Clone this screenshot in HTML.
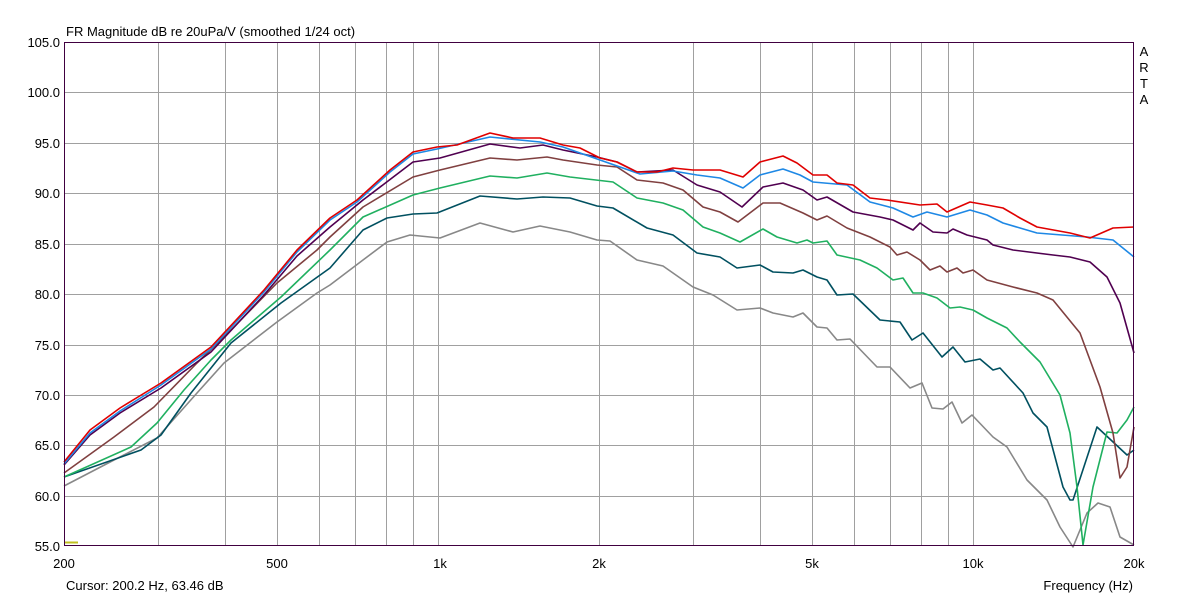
<!DOCTYPE html><html><head><style>body{margin:0;background:#fff}svg{display:block}text{font-family:"Liberation Sans",sans-serif;font-size:13px;fill:#000}</style></head><body>
<svg width="1198" height="597" xmlns="http://www.w3.org/2000/svg">
<rect width="1198" height="597" fill="#fff"/>
<g stroke="#a0a0a0" stroke-width="1">
<line x1="64" y1="92.5" x2="1134" y2="92.5"/><line x1="64" y1="143.5" x2="1134" y2="143.5"/><line x1="64" y1="193.5" x2="1134" y2="193.5"/><line x1="64" y1="244.5" x2="1134" y2="244.5"/><line x1="64" y1="294.5" x2="1134" y2="294.5"/><line x1="64" y1="345.5" x2="1134" y2="345.5"/><line x1="64" y1="395.5" x2="1134" y2="395.5"/><line x1="64" y1="445.5" x2="1134" y2="445.5"/><line x1="64" y1="496.5" x2="1134" y2="496.5"/>
<line x1="158.5" y1="42" x2="158.5" y2="546"/><line x1="225.5" y1="42" x2="225.5" y2="546"/><line x1="277.5" y1="42" x2="277.5" y2="546"/><line x1="319.5" y1="42" x2="319.5" y2="546"/><line x1="355.5" y1="42" x2="355.5" y2="546"/><line x1="386.5" y1="42" x2="386.5" y2="546"/><line x1="413.5" y1="42" x2="413.5" y2="546"/><line x1="438.5" y1="42" x2="438.5" y2="546"/><line x1="599.5" y1="42" x2="599.5" y2="546"/><line x1="693.5" y1="42" x2="693.5" y2="546"/><line x1="760.5" y1="42" x2="760.5" y2="546"/><line x1="812.5" y1="42" x2="812.5" y2="546"/><line x1="854.5" y1="42" x2="854.5" y2="546"/><line x1="890.5" y1="42" x2="890.5" y2="546"/><line x1="921.5" y1="42" x2="921.5" y2="546"/><line x1="948.5" y1="42" x2="948.5" y2="546"/><line x1="973.5" y1="42" x2="973.5" y2="546"/>
</g>
<g fill="none" stroke-width="1.6" stroke-linejoin="round">
<polyline stroke="#888" points="64,486 114,460 157,438 197,393 224,363 277,322 317,293 330,285 363,260 387,242 410,235 440,238 480,223 513,232 540,226 570,232 597,240 610,241 637,260 663,266 693,287 713,295 737,310 760,308 773,313 793,317 803,313 817,327 827,328 837,340 850,339 877,367 890,367 910,388 922,383 932,408 943,409 952,402 962,423 972,415 993,437 1007,447 1027,480 1047,500 1060,527 1073,547 1087,513 1098,503 1110,507 1120,537 1134,545"/>
<polyline stroke="#005060" points="64,477 141,450 161,435 191,393 231,343 281,303 330,268 363,230 387,218 413,214 437,213 480,196 517,199 543,197 570,198 597,206 613,208 647,228 673,235 697,253 720,257 737,268 760,265 773,272 793,273 803,270 817,277 827,280 837,295 853,294 880,320 900,322 912,340 923,333 942,357 953,347 965,362 980,359 993,370 1000,368 1023,393 1033,413 1047,427 1063,487 1070,500 1073,500 1097,427 1127,455 1134,450"/>
<polyline stroke="#20b060" points="64,477 131,447 157,423 184,390 211,360 231,340 281,297 330,250 363,217 413,195 440,188 490,176 517,178 547,173 570,177 613,182 637,198 663,203 683,210 703,227 720,233 740,242 763,229 777,237 797,243 807,240 813,243 827,241 837,255 860,260 877,268 893,280 903,278 913,293 923,293 937,298 950,308 960,307 973,310 987,318 1007,328 1020,342 1040,362 1060,395 1070,433 1077,487 1083,545 1093,487 1107,432 1117,433 1127,420 1134,407"/>
<polyline stroke="#804040" points="64,473 114,437 154,407 197,363 231,330 277,283 317,250 330,237 363,207 413,177 440,170 490,158 517,160 547,157 563,160 597,165 617,167 637,180 663,183 683,190 703,207 720,212 738,222 763,203 780,203 803,213 817,220 827,216 847,228 870,237 890,247 897,255 907,252 920,260 930,270 940,266 947,272 957,268 963,273 973,270 987,280 1013,287 1037,293 1053,300 1080,333 1100,387 1113,433 1120,478 1127,467 1134,427"/>
<polyline stroke="#500050" points="64,465 90,435 120,413 161,388 211,352 264,295 297,256 330,227 363,200 413,162 440,158 490,144 520,148 543,145 563,150 597,157 617,162 637,172 673,170 697,185 720,192 742,207 763,187 783,183 803,190 817,200 827,197 853,212 880,217 893,220 913,230 920,223 933,232 947,233 953,229 967,235 987,240 993,245 1013,250 1053,255 1070,257 1090,262 1107,277 1120,303 1134,353"/>
<polyline stroke="#1e88e5" points="64,464 90,433 120,411 161,385 211,349 264,292 297,252 330,220 357,202 390,172 413,154 437,149 490,137 540,142 563,147 600,160 640,174 673,171 697,175 720,178 743,188 760,175 783,169 800,175 813,182 847,185 870,202 893,208 913,217 927,212 947,217 970,210 987,215 1003,223 1037,233 1087,237 1113,240 1134,257"/>
<polyline stroke="#e00000" points="64,462 90,430 120,408 161,383 211,347 264,290 297,250 330,218 357,200 390,170 413,152 437,147 457,145 490,133 513,138 540,138 563,145 580,148 600,158 617,162 637,172 657,172 673,168 693,170 720,170 743,177 760,162 783,156 797,163 813,175 827,175 837,183 853,185 870,198 887,200 920,205 937,204 947,212 970,202 987,205 1003,208 1020,218 1037,227 1070,233 1090,238 1113,228 1134,227"/>
</g>
<rect x="64.5" y="42.5" width="1069" height="503" fill="none" stroke="#400040" stroke-width="1"/>
<line x1="65" y1="542.5" x2="78" y2="542.5" stroke="#c0c020" stroke-width="2"/>
<text x="66" y="36">FR Magnitude dB re 20uPa/V (smoothed 1/24 oct)</text>
<g text-anchor="end">
<text x="60" y="47">105.0</text><text x="60" y="97">100.0</text><text x="60" y="148">95.0</text><text x="60" y="198">90.0</text><text x="60" y="249">85.0</text><text x="60" y="299">80.0</text><text x="60" y="350">75.0</text><text x="60" y="400">70.0</text><text x="60" y="450">65.0</text><text x="60" y="501">60.0</text><text x="60" y="551">55.0</text>
</g>
<g text-anchor="middle">
<text x="64" y="568">200</text><text x="277" y="568">500</text><text x="440" y="568">1k</text><text x="599" y="568">2k</text><text x="812" y="568">5k</text><text x="973" y="568">10k</text><text x="1134" y="568">20k</text>
<text x="1144" y="56">A</text><text x="1144" y="72">R</text><text x="1144" y="88">T</text><text x="1144" y="104">A</text>
</g>
<text x="66" y="590">Cursor: 200.2 Hz, 63.46 dB</text>
<text x="1133" y="590" text-anchor="end">Frequency (Hz)</text>
</svg></body></html>
